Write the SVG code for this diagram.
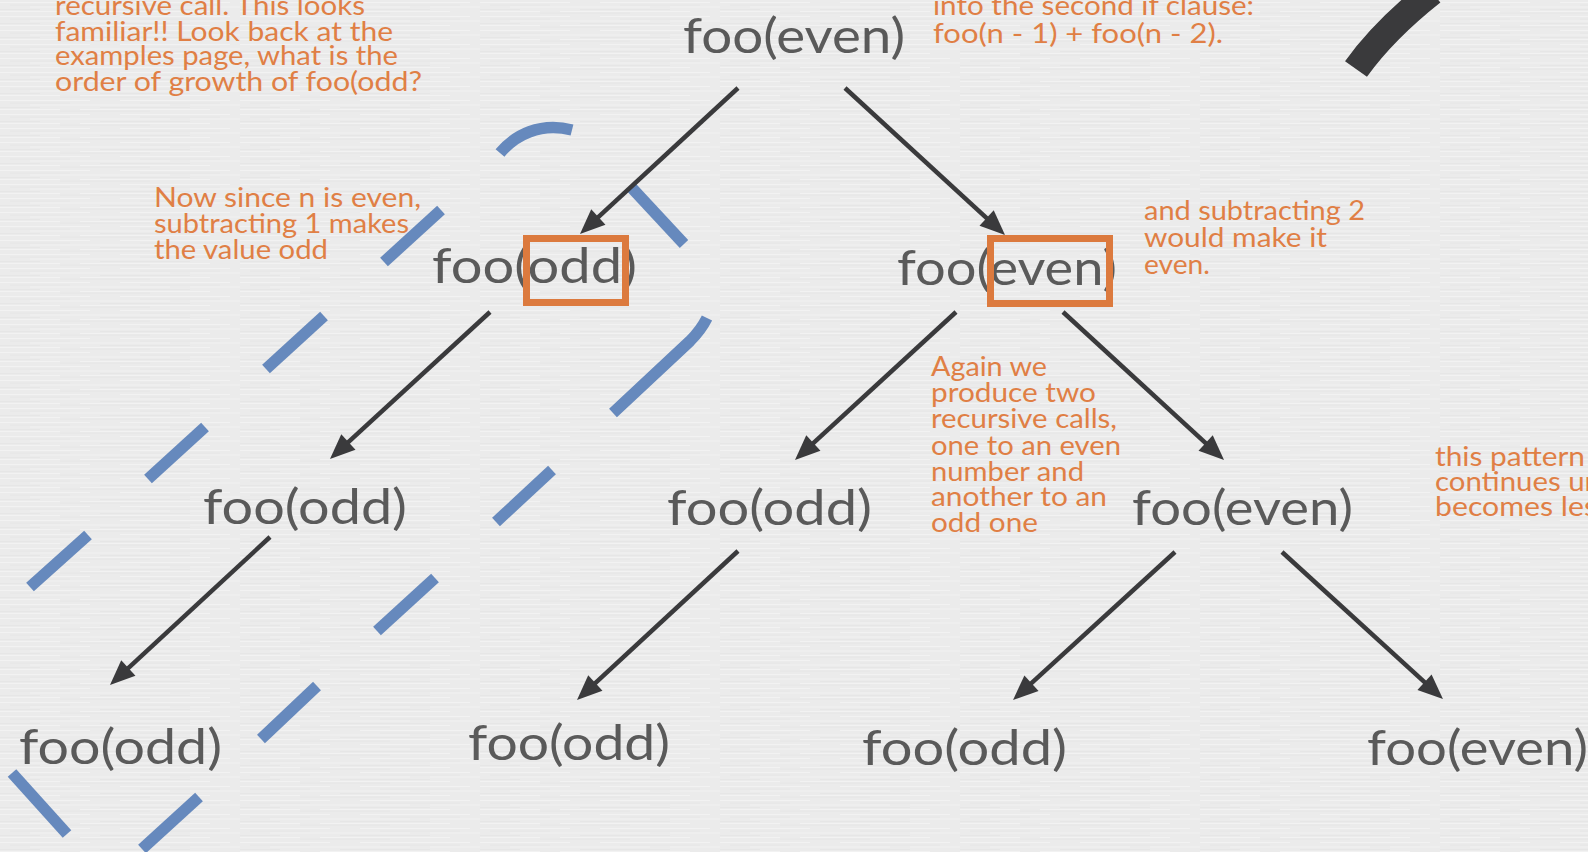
<svg xmlns="http://www.w3.org/2000/svg" width="1588" height="852" viewBox="0 0 1588 852">
  <defs>
    <pattern id="paper" x="0" y="0" width="240" height="14" patternUnits="userSpaceOnUse">
      <rect width="240" height="14" fill="#ebebeb"/>
      <path d="M0,2.5 H90 M120,2.5 H230 M30,7 H170 M190,7 H240 M0,11.5 H60 M80,11.5 H210" stroke="#f2f2f2" stroke-width="1.2"/>
      <path d="M10,5 H70 M140,5 H220 M0,9.5 H40 M100,9.5 H190 M60,13 H150" stroke="#e4e4e4" stroke-width="0.8"/>
    </pattern>
    <marker id="ah" markerUnits="userSpaceOnUse" markerWidth="26" markerHeight="22" refX="13" refY="10.5" orient="auto" overflow="visible">
      <path d="M0,0 L25,10.5 L0,21 z" fill="#3a3a3c"/>
    </marker>
    <style>
      .node { font-family: Lato, "Liberation Sans", sans-serif; font-size: 48px; fill: #5a5a5a; }
      .note { font-family: Lato, "Liberation Sans", sans-serif; font-size: 27px; fill: #e07f45; }
      .box { fill: none; stroke: #dc7a3e; stroke-width: 7; }
      .edge { stroke: #3a3a3c; stroke-width: 4.5; fill: none; marker-end: url(#ah); }
      .dash { stroke: #6689bd; stroke-width: 11.5; fill: none; stroke-linecap: butt; }
    </style>
  </defs>

  <rect width="1588" height="852" fill="url(#paper)"/>

  <!-- blue dashed outline -->
  <g id="highlight">
    <path class="dash" d="M500,153 C515,135 540,122 572,130"/>
    <line class="dash" x1="631" y1="187" x2="684" y2="244"/>
    <line class="dash" x1="441" y1="210" x2="384" y2="262"/>
    <line class="dash" x1="324" y1="316" x2="266" y2="369"/>
    <path class="dash" d="M707,318 Q701,330 690,341 L613,413"/>
    <line class="dash" x1="205" y1="427" x2="148" y2="479"/>
    <line class="dash" x1="552" y1="470" x2="496" y2="522"/>
    <line class="dash" x1="88" y1="535" x2="30" y2="587"/>
    <line class="dash" x1="435" y1="578" x2="377" y2="631"/>
    <line class="dash" x1="317" y1="686" x2="261" y2="739"/>
    <line class="dash" x1="12" y1="773" x2="67" y2="834"/>
    <line class="dash" x1="199" y1="797" x2="142" y2="849"/>
  </g>

  <!-- top-right dark stroke -->
  <path id="stroke-mark" d="M1356,69 Q1384,30 1432,-8" stroke="#3a3a3c" stroke-width="27" fill="none"/>

  <!-- connectors -->
  <g id="connectors">
    <line class="edge" x1="738" y1="88" x2="588.8" y2="225.9"/>
    <line class="edge" x1="845" y1="88" x2="996.2" y2="226.9"/>
    <line class="edge" x1="490" y1="312" x2="338.8" y2="450.9"/>
    <line class="edge" x1="956" y1="312" x2="803.8" y2="451.9"/>
    <line class="edge" x1="1063" y1="312" x2="1215.2" y2="451.9"/>
    <line class="edge" x1="270" y1="537" x2="118.8" y2="676.9"/>
    <line class="edge" x1="738" y1="551" x2="585.8" y2="691.9"/>
    <line class="edge" x1="1175" y1="552" x2="1021.9" y2="691.9"/>
    <line class="edge" x1="1282" y1="552" x2="1434.1" y2="690.9"/>
  </g>

  <!-- nodes -->
  <g id="n0"><text class="node" x="683" y="53" textLength="222" lengthAdjust="spacingAndGlyphs">foo(even)</text></g>
  <g id="n1">
    <text class="node" x="432" y="283" textLength="205" lengthAdjust="spacingAndGlyphs">foo(odd)</text>
    <rect class="box" x="526.5" y="238.5" width="99" height="64"/>
  </g>
  <g id="n2">
    <text class="node" x="897" y="285" textLength="220" lengthAdjust="spacingAndGlyphs">foo(even)</text>
    <rect class="box" x="990.5" y="238.5" width="119" height="65"/>
  </g>
  <g id="n3"><text class="node" x="203" y="524" textLength="204" lengthAdjust="spacingAndGlyphs">foo(odd)</text></g>
  <g id="n4"><text class="node" x="667" y="525" textLength="205" lengthAdjust="spacingAndGlyphs">foo(odd)</text></g>
  <g id="n5"><text class="node" x="1132" y="525" textLength="221" lengthAdjust="spacingAndGlyphs">foo(even)</text></g>
  <g id="n6"><text class="node" x="19" y="764" textLength="203" lengthAdjust="spacingAndGlyphs">foo(odd)</text></g>
  <g id="n7"><text class="node" x="468" y="760" textLength="202" lengthAdjust="spacingAndGlyphs">foo(odd)</text></g>
  <g id="n8"><text class="node" x="862" y="765" textLength="205" lengthAdjust="spacingAndGlyphs">foo(odd)</text></g>
  <g id="n9"><text class="node" x="1367" y="765" textLength="221" lengthAdjust="spacingAndGlyphs">foo(even)</text></g>

  <!-- annotations -->
  <g id="note-top-left">
    <text class="note" x="55" y="15" textLength="310" lengthAdjust="spacingAndGlyphs">recursive call. This looks</text>
    <text class="note" x="55" y="41" textLength="338" lengthAdjust="spacingAndGlyphs">familiar!! Look back at the</text>
    <text class="note" x="55" y="65" textLength="343" lengthAdjust="spacingAndGlyphs">examples page, what is the</text>
    <text class="note" x="55" y="91" textLength="367" lengthAdjust="spacingAndGlyphs">order of growth of foo(odd?</text>
  </g>
  <g id="note-even">
    <text class="note" x="154" y="207" textLength="267" lengthAdjust="spacingAndGlyphs">Now since n is even,</text>
    <text class="note" x="154" y="233" textLength="255" lengthAdjust="spacingAndGlyphs">subtracting 1 makes</text>
    <text class="note" x="154" y="259" textLength="174" lengthAdjust="spacingAndGlyphs">the value odd</text>
  </g>
  <g id="note-clause">
    <text class="note" x="933" y="15" textLength="321" lengthAdjust="spacingAndGlyphs">into the second if clause:</text>
    <text class="note" x="933" y="43" textLength="290" lengthAdjust="spacingAndGlyphs">foo(n - 1) + foo(n - 2).</text>
  </g>
  <g id="note-sub2">
    <text class="note" x="1144" y="220" textLength="221" lengthAdjust="spacingAndGlyphs">and subtracting 2</text>
    <text class="note" x="1144" y="247" textLength="183" lengthAdjust="spacingAndGlyphs">would make it</text>
    <text class="note" x="1144" y="274" textLength="66" lengthAdjust="spacingAndGlyphs">even.</text>
  </g>
  <g id="note-again">
    <text class="note" x="931" y="376" textLength="116" lengthAdjust="spacingAndGlyphs">Again we</text>
    <text class="note" x="931" y="402" textLength="165" lengthAdjust="spacingAndGlyphs">produce two</text>
    <text class="note" x="931" y="428" textLength="186" lengthAdjust="spacingAndGlyphs">recursive calls,</text>
    <text class="note" x="931" y="455" textLength="190" lengthAdjust="spacingAndGlyphs">one to an even</text>
    <text class="note" x="931" y="481" textLength="153" lengthAdjust="spacingAndGlyphs">number and</text>
    <text class="note" x="931" y="506" textLength="176" lengthAdjust="spacingAndGlyphs">another to an</text>
    <text class="note" x="931" y="532" textLength="107" lengthAdjust="spacingAndGlyphs">odd one</text>
  </g>
  <g id="note-pattern">
    <text class="note" x="1435" y="466" textLength="150" lengthAdjust="spacingAndGlyphs">this pattern</text>
    <text class="note" x="1435" y="491" textLength="166" lengthAdjust="spacingAndGlyphs">continues un</text>
    <text class="note" x="1435" y="516" textLength="162" lengthAdjust="spacingAndGlyphs">becomes les</text>
  </g>
</svg>
